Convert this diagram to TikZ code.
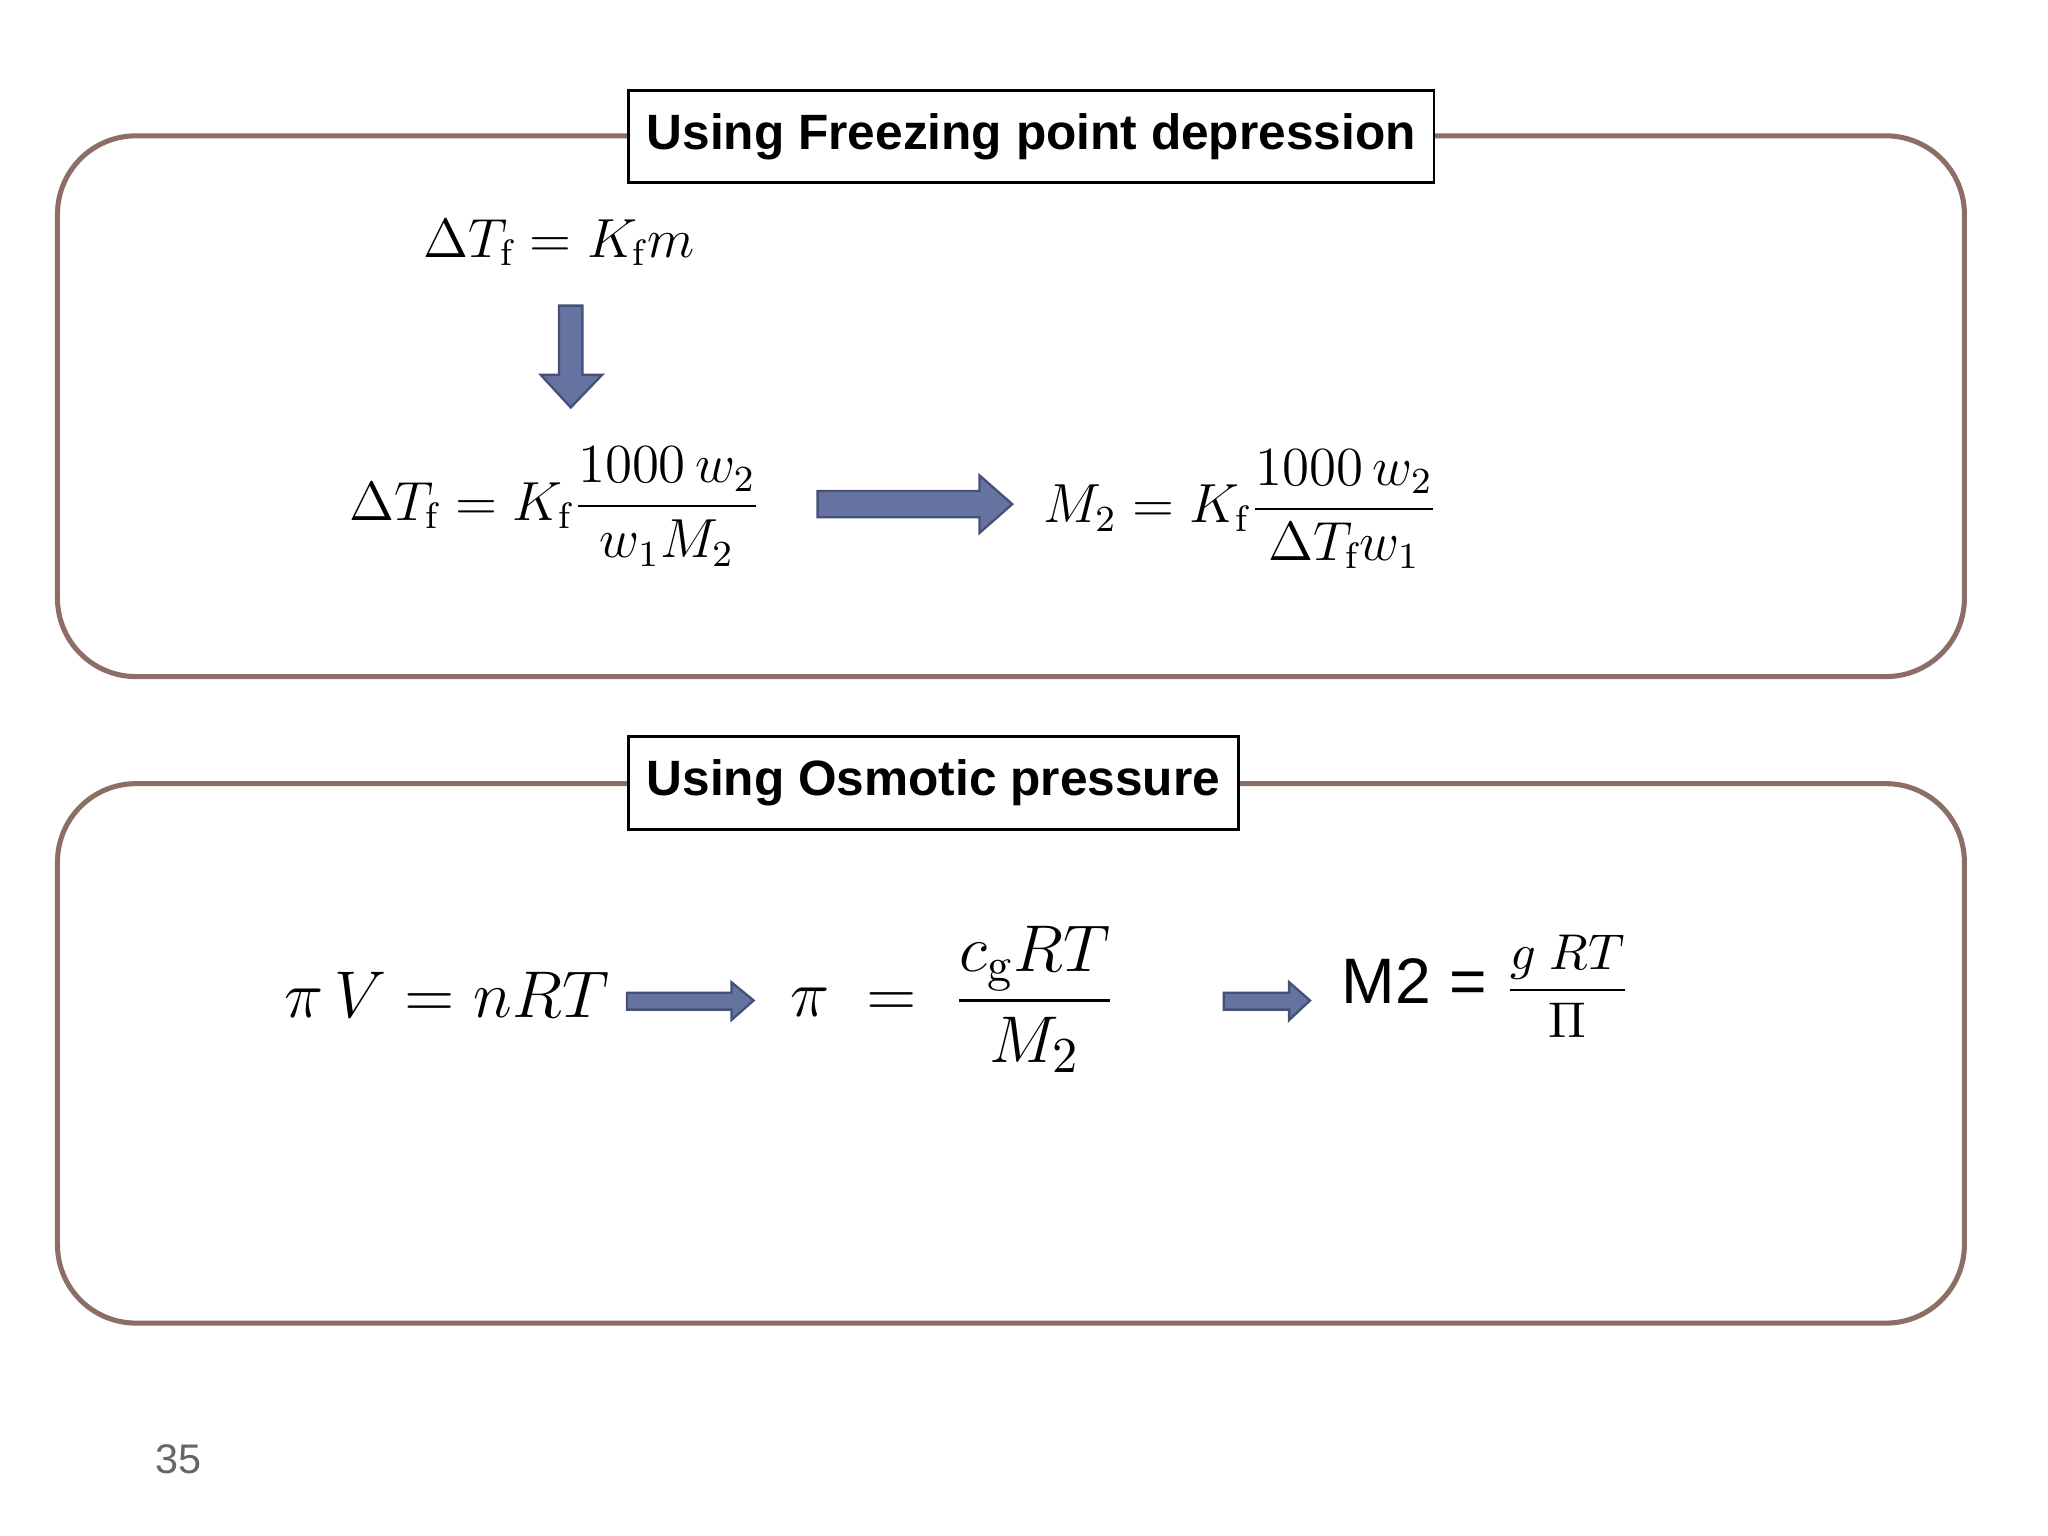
\documentclass[tikz,border=0pt]{standalone}
\usepackage{amsmath}
\usepackage{fontspec}
\setsansfont{Liberation Sans}
\definecolor{frame}{RGB}{140,110,100}
\definecolor{arr}{RGB}{100,115,160}
\definecolor{arrd}{RGB}{70,80,120}
\tikzset{
 panel/.style={draw=frame,line width=1.1pt,rounded corners=0.6cm},
 title/.style={draw=black,fill=white,line width=0.6pt,font=\sffamily\bfseries\fontsize{10.8}{13}\selectfont,inner xsep=4pt,inner ysep=5pt},
 blk/.style={fill=arr,draw=arrd,line width=0.5pt},
 eq/.style={font=\fontsize{12}{15}\selectfont}
}
\begin{document}
\begin{tikzpicture}[x=0.01cm,y=-0.01cm]
\useasboundingbox (0,0) rectangle (1568,1176);
\fill[white] (0,0) rectangle (1568,1176);
\draw[panel] (44,104) rectangle (1504,518);
\draw[panel] (44,600) rectangle (1504,1013);
\node[title,anchor=west] (t1) at (480,104.5) {Using Freezing point depression};
\node[title,anchor=west] (t2) at (480,599.5) {Using Osmotic pressure};
\node[eq] (e1) at (428,186) {$\Delta T_{\rm f} = K_{\rm f}m$};
\node[eq] (e2) at (425,388) {$\Delta T_{\rm f} = K_{\rm f}\dfrac{1000\,w_2}{w_1M_2}$};
\node[eq] (e3) at (950,390) {$M_2 = K_{\rm f}\dfrac{1000\,w_2}{\Delta T_{\rm f}w_1}$};
% block arrows
\draw[blk] (428,234) -- (446,234) -- (446,287) -- (461,287) -- (437,312) -- (414,287) -- (428,287) -- cycle;
\draw[blk] (626,376) -- (750,376) -- (750,364) -- (775,386) -- (750,408) -- (750,396) -- (626,396) -- cycle;
\draw[blk] (480,760) -- (560,760) -- (560,752) -- (577,766) -- (560,781) -- (560,773) -- (480,773) -- cycle;
\draw[blk] (937,760) -- (987,760) -- (987,752) -- (1003,766) -- (987,781) -- (987,773) -- (937,773) -- cycle;
\node[eq,font=\fontsize{15}{18}\selectfont] (e4) at (342,762) {$\pi\, V = nRT$};
\node[eq,font=\fontsize{15}{18}\selectfont] (e5) at (730,765) {$\pi\; = \;\dfrac{c_{\rm g}RT}{M_2}$};
\node[anchor=west] (e6) at (1015,755) {\sffamily\fontsize{14}{17}\selectfont M2 = {\fontsize{11}{13}\selectfont$\dfrac{g\;RT}{\Pi}$}};
\node[text=black!60,font=\sffamily\fontsize{9}{11}\selectfont] (pg) at (137,1117) {35};
\end{tikzpicture}
\end{document}
